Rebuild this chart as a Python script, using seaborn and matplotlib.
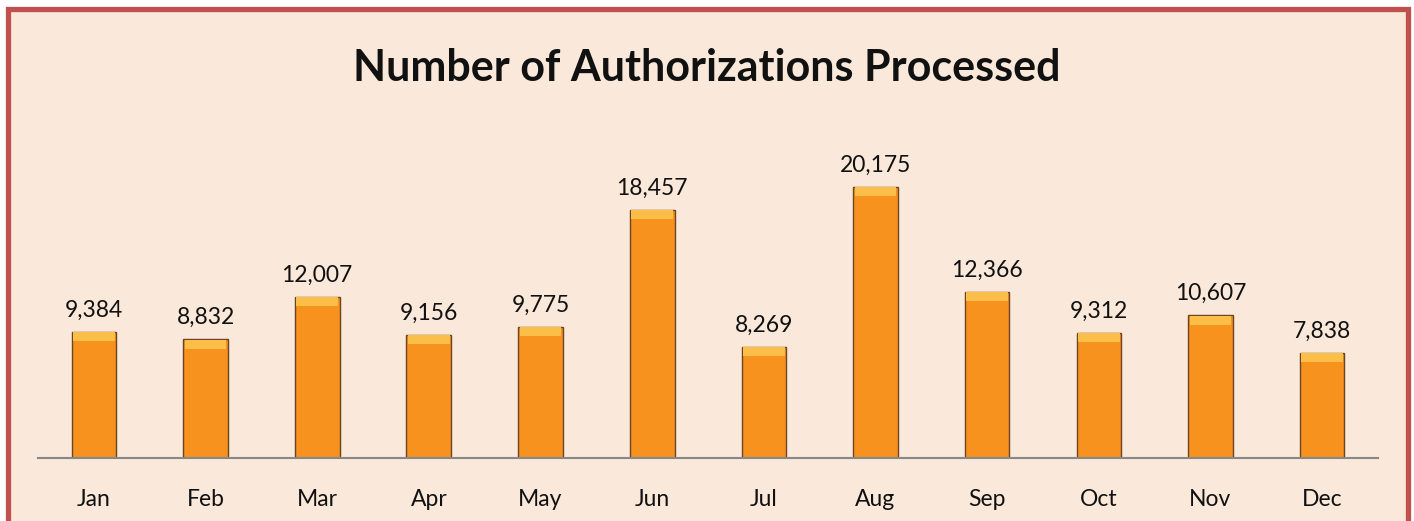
import matplotlib
matplotlib.use("Agg")
import matplotlib.pyplot as plt
import matplotlib.patches as patches
import seaborn as sns
import pandas as pd

# 数据
months = ["Jan", "Feb", "Mar", "Apr", "May", "Jun", "Jul", "Aug", "Sep", "Oct", "Nov", "Dec"]
authorizations = [9384, 8832, 12007, 9156, 9775, 18457, 8269, 20175, 12366, 9312, 10607, 7838]

df = pd.DataFrame({"month": months, "count": authorizations})

sns.set_style("white")
plt.rcParams["font.family"] = ["Lato", "DejaVu Sans"]

bg = "#FAE9DA"
fig = plt.figure(figsize=(14.14, 5.21), dpi=100)
fig.patch.set_facecolor("white")

# 外框
frame = patches.Rectangle((7.5 / 1414, -0.05), 1400 / 1414, 1.05 - 9.5 / 521,
                          transform=fig.transFigure, facecolor=bg,
                          edgecolor="#C0504D", linewidth=3.8, zorder=-10)
fig.patches.append(frame)

ax = fig.add_axes([38 / 1414, 63 / 521, 1340 / 1414, 336 / 521])
ax.set_facecolor("none")
ax.set_zorder(1)

sns.barplot(data=df, x="month", y="count", color="#F7921E", width=0.4,
            edgecolor="#6B4423", linewidth=1.0, saturation=1, ax=ax)

ax.set_ylim(0, 25000)
ax.set_xlim(-0.5, 11.5)

# 顶部高光（斜面效果）
bevel = 700
for p in list(ax.patches):
    x0, w, h = p.get_x(), p.get_width(), p.get_height()
    ax.add_patch(patches.Rectangle((x0 + w * 0.03, h - bevel), w * 0.94, bevel * 0.95,
                                   facecolor="#FBBE48", edgecolor="none", zorder=3))

for i, v in enumerate(authorizations):
    ax.annotate(f"{v:,}", (i, v), xytext=(0, 8), textcoords="offset points",
                ha="center", va="bottom", fontsize=16.5, color="#111111")

sns.despine(ax=ax, left=True, top=True, right=True)
ax.spines["bottom"].set_color("#888888")
ax.spines["bottom"].set_linewidth(1.5)
ax.set_yticks([])
ax.set_xlabel("")
ax.set_ylabel("")
ax.tick_params(axis="x", length=0, labelsize=16.5, pad=22, colors="#111111")

fig.text(0.5, 1 - 68 / 521, "Number of Authorizations Processed", ha="center", va="center",
         fontsize=31, fontweight="bold", color="#111111")

fig.savefig("out.png", dpi=100, facecolor=fig.get_facecolor())
